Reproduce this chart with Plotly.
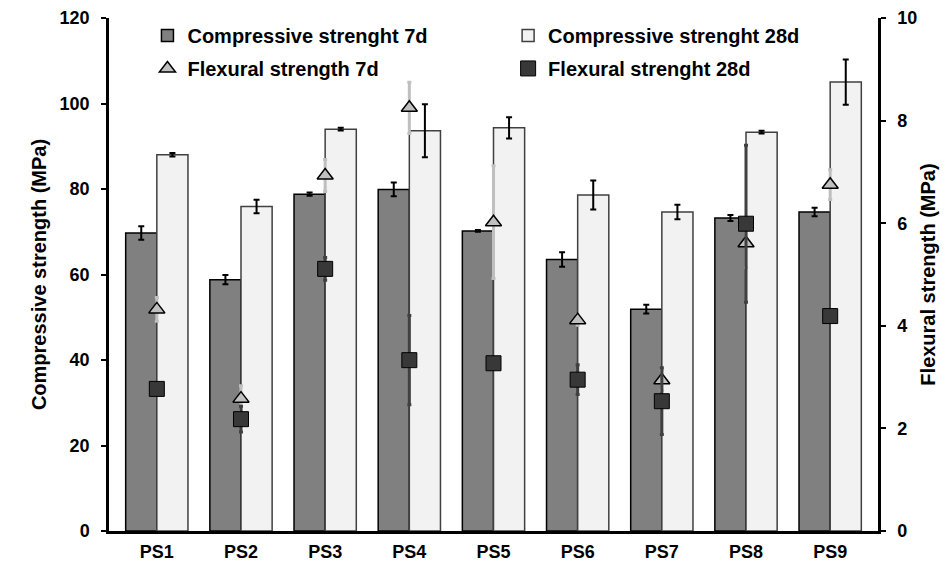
import plotly.graph_objects as go

categories = ["PS1", "PS2", "PS3", "PS4", "PS5", "PS6", "PS7", "PS8", "PS9"]
comp_7d = [69.7, 58.8, 78.8, 79.9, 70.2, 63.5, 51.9, 73.2, 74.6]
comp_7d_err = [1.6, 1.1, 0.4, 1.6, 0.2, 1.7, 1.05, 0.7, 1.0]
comp_28d = [88.0, 75.9, 94.0, 93.6, 94.3, 78.6, 74.6, 93.3, 105.0]
comp_28d_err = [0.4, 1.6, 0.3, 6.2, 2.5, 3.4, 1.7, 0.3, 5.3]
flex_7d = [4.32, 2.58, 6.93, 8.25, 6.02, 4.11, 2.94, 5.61, 6.75]
flex_7d_err = [0.23, 0.25, 0.31, 0.5, 1.1, 0.1, 0.2, 0.48, 0.29]
flex_28d = [2.77, 2.18, 5.11, 3.33, 3.27, 2.95, 2.53, 5.99, 4.19]
flex_28d_err = [0.1, 0.25, 0.22, 0.87, 0.1, 0.29, 0.65, 1.53, 0.1]

FONT = "Liberation Sans, Arial, sans-serif"

fig = go.Figure()
fig.add_trace(go.Bar(
    x=categories, y=comp_7d, name="<b>Compressive strenght 7d</b>",
    marker=dict(color="#808080", line=dict(color="#000000", width=1.5)),
    error_y=dict(type="data", array=comp_7d_err, color="#000000", thickness=2, width=3),
    legend="legend", legendgroup="a",
))
fig.add_trace(go.Bar(
    x=categories, y=comp_28d, name="<b>Compressive strenght 28d</b>",
    marker=dict(color="#F2F2F2", line=dict(color="#404040", width=1.5)),
    error_y=dict(type="data", array=comp_28d_err, color="#000000", thickness=2, width=3),
    legend="legend2", legendgroup="b",
))
fig.add_trace(go.Scatter(
    x=categories, y=flex_7d, name="<b>Flexural strength 7d</b>", mode="markers", yaxis="y2",
    marker=dict(symbol="triangle-up", size=14, color="#C0C0C0", line=dict(color="#000000", width=1.5)),
    error_y=dict(type="data", array=flex_7d_err, color="#BFBFBF", thickness=3, width=2),
    legend="legend", legendgroup="c",
))
fig.add_trace(go.Scatter(
    x=categories, y=flex_28d, name="<b>Flexural strenght 28d</b>", mode="markers", yaxis="y2",
    marker=dict(symbol="square", size=15, color="#383838", line=dict(color="#000000", width=1)),
    error_y=dict(type="data", array=flex_28d_err, color="#404040", thickness=3, width=2),
    legend="legend2", legendgroup="d",
))

fig.update_layout(
    width=945, height=563,
    margin=dict(l=109, r=67, t=18, b=32),
    paper_bgcolor="white", plot_bgcolor="white",
    barmode="group", bargap=0.26, bargroupgap=0,
    font=dict(family=FONT, color="#000000"),
    xaxis=dict(
        showline=True, linewidth=2.5, linecolor="#000000", ticks="",
        tickfont=dict(size=18, family=FONT), showgrid=False, zeroline=False,
        tickprefix="<b>", ticksuffix="</b>", ticklabelstandoff=3, automargin=False,
    ),
    yaxis=dict(
        range=[0, 120], dtick=20, showline=True, linewidth=2.5, linecolor="#000000",
        ticks="outside", ticklen=5, tickwidth=2, tickcolor="#000000",
        showgrid=False, zeroline=False, ticklabelstandoff=8, automargin=False,
        tickfont=dict(size=18, family=FONT), tickprefix="<b>", ticksuffix="</b>",
        title=dict(text="<b>Compressive strength (MPa)</b>", font=dict(size=20, family=FONT), standoff=8),
    ),
    yaxis2=dict(
        range=[0, 10], dtick=2, overlaying="y", side="right",
        showline=True, linewidth=2.5, linecolor="#000000",
        ticks="outside", ticklen=5, tickwidth=2, tickcolor="#000000",
        showgrid=False, zeroline=False, ticklabelstandoff=8, automargin=False,
        tickfont=dict(size=18, family=FONT), tickprefix="<b>", ticksuffix="</b>",
        title=dict(text="<b>Flexural strength (MPa)</b>", font=dict(size=20, family=FONT), standoff=5),
    ),
    legend=dict(
        x=0.05, y=1.004, xanchor="left", yanchor="top", orientation="v",
        font=dict(size=20, family=FONT), bgcolor="rgba(0,0,0,0)",
        traceorder="grouped", tracegroupgap=4, itemwidth=30,
    ),
    legend2=dict(
        x=0.519, y=1.004, xanchor="left", yanchor="top", orientation="v",
        font=dict(size=20, family=FONT), bgcolor="rgba(0,0,0,0)",
        traceorder="grouped", tracegroupgap=4, itemwidth=30,
    ),
    showlegend=True,
)

fig.write_html("out.html")
